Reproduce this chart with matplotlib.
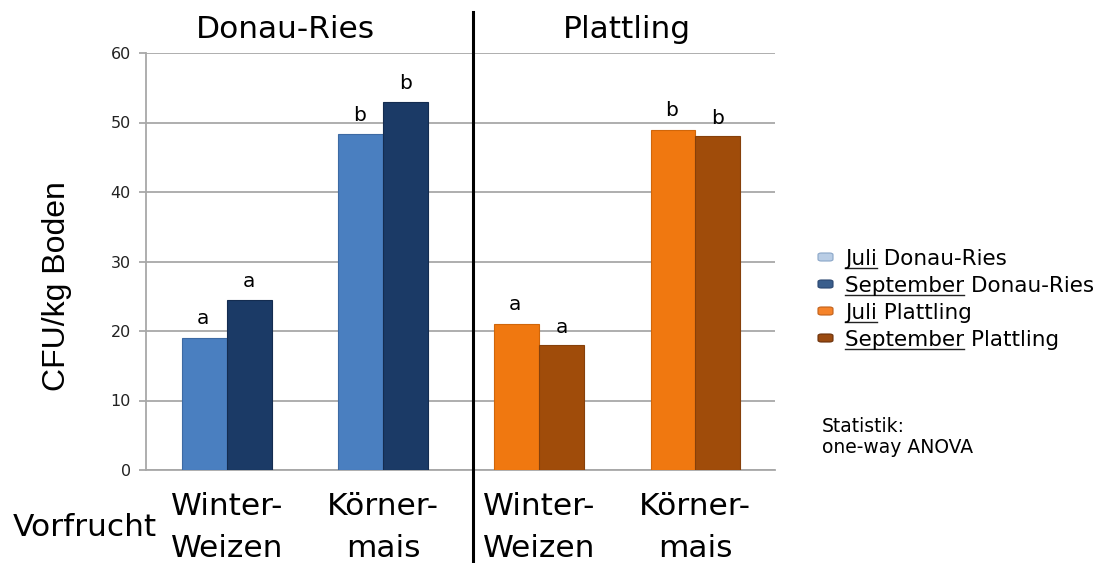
import matplotlib
matplotlib.use("Agg")
import matplotlib.pyplot as plt
import numpy as np
from matplotlib.patches import FancyBboxPatch
from matplotlib.lines import Line2D
from matplotlib.font_manager import FontProperties

plt.rcParams['font.family'] = ['DejaVu Sans']

# ---- data ----
groups = ["Winter-\nWeizen", "Körner-\nmais", "Winter-\nWeizen", "Körner-\nmais"]
juli = [19.0, 48.3, 21.0, 48.9]
september = [24.5, 53.0, 18.0, 48.0]
letters_juli = ["a", "b", "a", "b"]
letters_sep = ["a", "b", "a", "b"]
regions = ["Donau-Ries", "Plattling"]
yticks = [0, 10, 20, 30, 40, 50, 60]
legend_prefix = ["Juli", "September", "Juli", "September"]
legend_rest = [" Donau-Ries", " Donau-Ries", " Plattling", " Plattling"]

bar_juli_colors = ["#4a7fc0", "#4a7fc0", "#f07810", "#f07810"]
bar_sep_colors = ["#1b3a66", "#1b3a66", "#a04c0a", "#a04c0a"]
bar_juli_edges = ["#3d6aa3", "#3d6aa3", "#d0660a", "#d0660a"]
bar_sep_edges = ["#142c50", "#142c50", "#86400a", "#86400a"]
legend_colors = ["#b9cde5", "#3a5e8c", "#f5832a", "#9a4a10"]
legend_edges = ["#8aa6c8", "#2a4670", "#c0601a", "#6a300a"]

W, H = 1109, 563
fig = plt.figure(figsize=(W / 100, H / 100), dpi=100)
ax = fig.add_axes([146 / W, 1 - 470 / H, (775 - 146) / W, (470 - 53) / H])

x = np.arange(len(groups))
bw = 0.287
ax.bar(x - bw / 2, juli, bw, color=bar_juli_colors, edgecolor=bar_juli_edges, linewidth=0.8, zorder=3)
ax.bar(x + bw / 2, september, bw, color=bar_sep_colors, edgecolor=bar_sep_edges, linewidth=0.8, zorder=3)

for i in range(len(groups)):
    ax.annotate(letters_juli[i], (x[i] - bw / 2, juli[i]), xytext=(-1, 7), textcoords="offset points",
                ha="center", va="bottom", fontsize=14.5)
    ax.annotate(letters_sep[i], (x[i] + bw / 2, september[i]), xytext=(0, 6), textcoords="offset points",
                ha="center", va="bottom", fontsize=14.5)

ax.set_xlim(-0.518, 3.51)
ax.set_ylim(0, 60)
ax.set_yticks(yticks)
ax.set_yticklabels([str(v) for v in yticks], fontsize=11.5)
ax.yaxis.grid(True, color="#a8a8a8", linewidth=1.3, zorder=0)
ax.set_axisbelow(True)
for s in ["top", "right"]:
    ax.spines[s].set_visible(False)
for s in ["left", "bottom"]:
    ax.spines[s].set_color("#a8a8a8")
    ax.spines[s].set_linewidth(1.3)
ax.tick_params(axis="y", direction="out", length=5, color="#a8a8a8", width=1.3, pad=6, labelcolor="#222222")
ax.set_xticks(x)
ax.set_xticklabels(groups, fontsize=22.5, linespacing=1.55)
ax.tick_params(axis="x", length=0, pad=16)

fig.text(57 / W, 1 - 286 / H, "CFU/kg Boden", rotation=90, ha="center", va="center",
         fontsize=23, family=["Liberation Sans", "DejaVu Sans"])

fig.text(285 / W, 1 - 38 / H, regions[0], ha="center", va="baseline", fontsize=22.5)
fig.text(627 / W, 1 - 38 / H, regions[1], ha="center", va="baseline", fontsize=22.5)
fig.text(85 / W, 1 - 527 / H, "Vorfrucht", ha="center", va="center", fontsize=22.5)

fig.add_artist(Line2D([473 / W, 473 / W], [0, 1 - 12 / H], color="black", linewidth=2.2,
                      transform=fig.transFigure))

# ---- legend (hand-built so the month words can be underlined) ----
fig.canvas.draw()
renderer = fig.canvas.get_renderer()
lfp = FontProperties(family="DejaVu Sans", size=15.5)
for i in range(4):
    yb = 265 + 27 * i
    fig.add_artist(FancyBboxPatch((818 / W, 1 - (yb - 4) / H), 15 / W, 8 / H,
                                  boxstyle="round,pad=0,rounding_size=0.003",
                                  facecolor=legend_colors[i], edgecolor=legend_edges[i], linewidth=0.8,
                                  transform=fig.transFigure))
    label = legend_prefix[i] + legend_rest[i]
    fig.text(845 / W, 1 - yb / H, label, ha="left", va="baseline", fontproperties=lfp)
    wpre, _, _ = renderer.get_text_width_height_descent(legend_prefix[i], lfp, ismath=False)
    yl = 1 - (yb + 3) / H
    fig.add_artist(Line2D([845 / W, (845 + wpre) / W], [yl, yl], color="#222222", linewidth=1.0,
                          transform=fig.transFigure))

fig.text(822 / W, 1 - 432 / H, "Statistik:", ha="left", va="baseline", fontsize=13.5)
fig.text(822 / W, 1 - 453 / H, "one-way ANOVA", ha="left", va="baseline", fontsize=13.5)

fig.savefig("out.png", dpi=100)
